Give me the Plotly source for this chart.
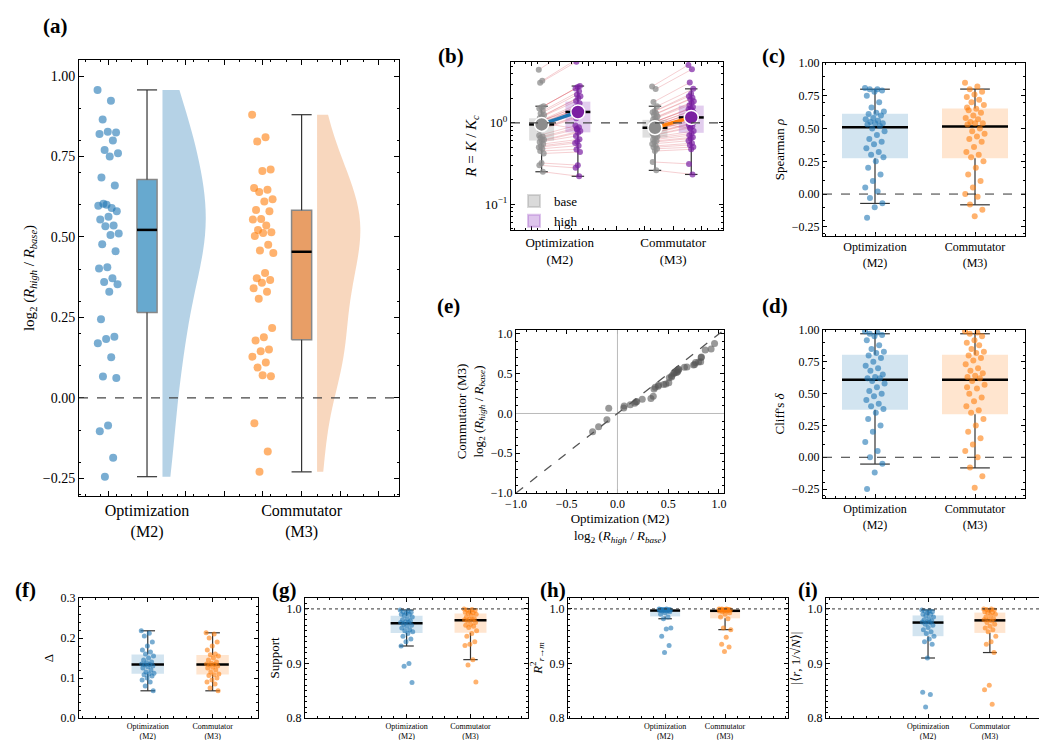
import numpy as np
import plotly.graph_objects as go

W, H = 1047, 740
FONT = "Times New Roman, Liberation Serif, DejaVu Serif, serif"
BLUE = "#1f77b4"
ORANGE = "#ff7f0e"
PURPLE = "#7b1fa2"
GRAY = "#8c8c8c"

groups = ["Optimization<br>(M2)", "Commutator<br>(M3)"]

# (a) log2(R_high/R_base)
a_m2 = [0.957, 0.923, 0.865, 0.825, 0.827, 0.820, 0.800, 0.770, 0.760, 0.750, 0.685, 0.660, 0.600, 0.597,
        0.590, 0.603, 0.580, 0.563, 0.554, 0.536, 0.533, 0.511, 0.506, 0.477, 0.456, 0.406, 0.402, 0.372,
        0.360, 0.353, 0.330, 0.244, 0.190, 0.183, 0.170, 0.126, 0.066, 0.062, -0.086, -0.104, -0.186, -0.245]
a_m3 = [0.880, 0.810, 0.797, 0.710, 0.705, 0.652, 0.647, 0.640, 0.617, 0.610, 0.584, 0.580, 0.556, 0.554,
        0.536, 0.522, 0.515, 0.512, 0.503, 0.476, 0.458, 0.450, 0.388, 0.372, 0.366, 0.358, 0.341, 0.330,
        0.308, 0.217, 0.188, 0.178, 0.150, 0.145, 0.128, 0.110, 0.094, 0.067, 0.070, -0.079, -0.167, -0.230]

# (b) base R = K/Kc
base_m2 = [4.5, 3.3, 3.1, 1.6, 1.55, 1.5, 1.4, 1.3, 1.25, 1.2, 1.15, 1.1, 1.05, 1.02, 1.0, 0.98, 0.97, 0.96,
           0.95, 0.93, 0.9, 0.88, 0.85, 0.82, 1.0, 1.08, 0.7, 0.68, 0.65, 0.62, 0.6, 0.58, 0.55, 0.52, 0.5,
           0.48, 0.45, 0.42, 0.32, 0.3, 0.25, 1.0]
base_m3 = [2.8, 2.6, 1.8, 1.6, 1.4, 1.35, 1.3, 1.25, 1.2, 1.15, 1.1, 1.05, 1.02, 1.0, 0.98, 0.96, 0.94, 0.92,
           0.9, 0.88, 0.86, 0.84, 0.82, 0.8, 0.78, 0.76, 0.74, 0.72, 0.7, 0.68, 0.65, 0.62, 0.6, 0.58, 0.55,
           0.52, 0.5, 0.48, 0.45, 0.33, 0.26, 1.0]

rho_m2 = [0.81, 0.80, 0.80, 0.79, 0.78, 0.75, 0.70, 0.66, 0.63, 0.62, 0.61, 0.60, 0.58, 0.57, 0.56, 0.55, 0.54,
          0.54, 0.53, 0.52, 0.50, 0.48, 0.45, 0.42, 0.40, 0.38, 0.35, 0.32, 0.30, 0.28, 0.25, 0.20, 0.15, 0.10,
          0.05, 0.02, -0.03, -0.07, -0.10, -0.18]
rho_m3 = [0.85, 0.82, 0.80, 0.78, 0.76, 0.74, 0.72, 0.70, 0.68, 0.65, 0.64, 0.62, 0.60, 0.58, 0.57, 0.55, 0.54,
          0.54, 0.53, 0.50, 0.48, 0.46, 0.44, 0.42, 0.40, 0.36, 0.32, 0.30, 0.28, 0.25, 0.20, 0.15, 0.10, 0.05,
          0.0, -0.02, -0.08, -0.12, -0.17, 0.66]
delta_m2 = [0.99, 0.98, 0.97, 0.96, 0.95, 0.92, 0.88, 0.85, 0.83, 0.82, 0.80, 0.78, 0.75, 0.72, 0.70, 0.68, 0.65,
            0.63, 0.62, 0.62, 0.60, 0.58, 0.55, 0.52, 0.50, 0.48, 0.45, 0.42, 0.40, 0.38, 0.35, 0.30, 0.25, 0.20,
            0.12, 0.05, 0.0, -0.05, -0.12, -0.25]
delta_m3 = [0.99, 0.98, 0.97, 0.95, 0.92, 0.90, 0.88, 0.85, 0.83, 0.82, 0.80, 0.78, 0.76, 0.73, 0.70, 0.68, 0.66,
            0.64, 0.63, 0.62, 0.60, 0.57, 0.54, 0.50, 0.47, 0.44, 0.40, 0.37, 0.35, 0.30, 0.25, 0.20, 0.15, 0.10,
            0.05, 0.0, -0.08, -0.15, -0.24, 0.55]
gap_m2 = [0.218, 0.212, 0.205, 0.19, 0.18, 0.17, 0.165, 0.16, 0.155, 0.15, 0.145, 0.14, 0.138, 0.135, 0.134, 0.133,
          0.13, 0.128, 0.125, 0.12, 0.115, 0.112, 0.11, 0.108, 0.105, 0.1, 0.095, 0.09, 0.08, 0.068]
gap_m3 = [0.213, 0.21, 0.2, 0.19, 0.18, 0.17, 0.16, 0.158, 0.155, 0.15, 0.145, 0.14, 0.137, 0.135, 0.134, 0.133,
          0.13, 0.127, 0.125, 0.12, 0.115, 0.11, 0.108, 0.106, 0.1, 0.095, 0.09, 0.085, 0.075, 0.068]
sup_m2 = [0.998, 0.997, 0.995, 0.994, 0.992, 0.99, 0.99, 0.988, 0.985, 0.982, 0.98, 0.978, 0.976, 0.975, 0.975,
          0.972, 0.97, 0.968, 0.965, 0.962, 0.96, 0.958, 0.955, 0.95, 0.945, 0.94, 0.932, 0.90, 0.895, 0.865]
sup_m3 = [1.0, 0.999, 0.998, 0.997, 0.995, 0.994, 0.993, 0.992, 0.99, 0.988, 0.985, 0.982, 0.981, 0.98, 0.98,
          0.978, 0.975, 0.972, 0.97, 0.968, 0.966, 0.96, 0.955, 0.95, 0.94, 0.935, 0.933, 0.907, 0.897, 0.866]
r2_m2 = [1.0, 1.0, 0.999, 0.999, 0.999, 0.999, 0.998, 0.998, 0.998, 0.998, 0.998, 0.997, 0.997, 0.997, 0.996,
         0.996, 0.995, 0.993, 0.99, 0.985, 0.982, 0.965, 0.963, 0.95, 0.933, 0.92]
r2_m3 = [1.0, 1.0, 1.0, 0.999, 0.999, 0.999, 0.999, 0.998, 0.998, 0.998, 0.998, 0.997, 0.997, 0.996, 0.996,
         0.995, 0.993, 0.99, 0.985, 0.982, 0.965, 0.962, 0.948, 0.935, 0.93, 0.922]
ov_m2 = [0.998, 0.997, 0.996, 0.995, 0.993, 0.99, 0.99, 0.988, 0.985, 0.982, 0.98, 0.978, 0.976, 0.976, 0.975,
         0.972, 0.97, 0.966, 0.962, 0.958, 0.955, 0.95, 0.945, 0.94, 0.935, 0.91, 0.847, 0.843, 0.82]
ov_m3 = [1.0, 1.0, 0.999, 0.998, 0.997, 0.995, 0.994, 0.993, 0.99, 0.988, 0.985, 0.982, 0.98, 0.98, 0.978,
         0.975, 0.972, 0.968, 0.965, 0.962, 0.958, 0.95, 0.94, 0.935, 0.92, 0.86, 0.852, 0.825]

fig = go.Figure()
n_ax = [0]


def new_axes(px0, px1, py0, py1, xr, yr, xtitle=None, ytitle=None, ylog=False, tick_size=11,
             xticks=None, yticks=None, ytext=None, fs=11):
    n_ax[0] += 1
    k = n_ax[0]
    sfx = "" if k == 1 else str(k)
    common = dict(showline=True, linecolor="black", linewidth=1, mirror="allticks", ticks="inside",
                  ticklen=4, tickcolor="black", showgrid=False, zeroline=False, automargin=False,
                  tickfont=dict(family=FONT, size=tick_size, color="black"),
                  minor=dict(ticks="inside", ticklen=2, tickcolor="black"))
    xa = dict(common, domain=[px0 / W, px1 / W], anchor="y" + sfx, range=xr)
    if xticks is not None:
        xa.update(tickvals=xticks[0], ticktext=xticks[1])
    if xtitle:
        xa["title"] = dict(text=xtitle, font=dict(family=FONT, size=fs, color="black"), standoff=2)
    ya = dict(common, domain=[1 - py1 / H, 1 - py0 / H], anchor="x" + sfx, range=yr)
    if ylog:
        ya["type"] = "log"
    if yticks is not None:
        ya["tickvals"] = yticks
        if ytext is not None:
            ya["ticktext"] = ytext
    if ytitle:
        ya["title"] = dict(text=ytitle, font=dict(family=FONT, size=fs, color="black"), standoff=4)
    fig.layout["xaxis" + sfx] = xa
    fig.layout["yaxis" + sfx] = ya
    return "x" + sfx, "y" + sfx


def jitter(n, w):
    return ((np.arange(n) * 0.618034) % 1 - 0.5) * w


def draw_box(xa, ya, pos, vals, hw, fill, edge, whis="iqr", cap=0.5, mw=2.5, ew=1.2):
    v = np.array(vals, dtype=float)
    q1, med, q3 = np.percentile(v, [25, 50, 75])
    if whis == "range":
        lo, hi = v.min(), v.max()
    elif whis == "pct":
        lo, hi = np.percentile(v, [5, 95])
    else:
        iqr = q3 - q1
        lo, hi = v[v >= q1 - 1.5 * iqr].min(), v[v <= q3 + 1.5 * iqr].max()
    cw = hw * cap
    fig.add_trace(go.Scatter(x=[pos - hw, pos + hw, pos + hw, pos - hw, pos - hw], y=[q1, q1, q3, q3, q1],
                             mode="lines", fill="toself", fillcolor=fill,
                             line=dict(color=edge if edge else "rgba(0,0,0,0)", width=1.5),
                             xaxis=xa, yaxis=ya, showlegend=False, hoverinfo="skip"))
    fig.add_trace(go.Scatter(x=[pos, pos, None, pos, pos, None, pos - cw, pos + cw, None, pos - cw, pos + cw],
                             y=[q3, hi, None, q1, lo, None, hi, hi, None, lo, lo], mode="lines",
                             line=dict(color="#333333", width=ew), xaxis=xa, yaxis=ya,
                             showlegend=False, hoverinfo="skip"))
    fig.add_trace(go.Scatter(x=[pos - hw, pos + hw], y=[med, med], mode="lines",
                             line=dict(color="black", width=mw), xaxis=xa, yaxis=ya,
                             showlegend=False, hoverinfo="skip"))


def draw_points(xa, ya, pos, vals, color, jw, size=6, op=0.6):
    fig.add_trace(go.Scatter(x=pos + jitter(len(vals), jw), y=vals, mode="markers",
                             marker=dict(color=color, size=size, opacity=op, line=dict(width=0)),
                             xaxis=xa, yaxis=ya, showlegend=False, hoverinfo="skip"))


def hline(xa, ya, y, dash="dash", color="#444444", width=1.2):
    fig.add_shape(type="line", xref=xa + " domain", yref=ya, x0=0, x1=1, y0=y, y1=y,
                  line=dict(color=color, dash=dash, width=width))


def label(txt, px, py):
    fig.add_annotation(text="<b>" + txt + "</b>", x=px / W, y=1 - py / H, xref="paper", yref="paper",
                       showarrow=False, xanchor="left", yanchor="middle",
                       font=dict(family=FONT, size=21, color="black"))


log_lbl = "log<sub>2</sub> (<i>R<sub>high</sub></i> / <i>R<sub>base</sub></i>)"

# ---- (a)
ta = [-0.25 + 0.25 * i for i in range(-1, 8)]
tat = ["", "", groups[0], "", "", "", groups[1], "", ""]
xa, ya = new_axes(71, 391, 52, 488, [-0.44, 1.63], [-0.305, 1.05], ytitle=log_lbl, tick_size=14,
                  xticks=(ta, tat), yticks=[-0.25, 0, 0.25, 0.5, 0.75, 1.0],
                  ytext=["−0.25", "0.00", "0.25", "0.50", "0.75", "1.00"], fs=15)
fig.layout["xaxis"].tickfont.size = 16
fig.layout["xaxis"].ticklen = 5
fig.layout["yaxis"].ticklen = 5
hline(xa, ya, 0)
for pos, vals, col, bfill, vfill in [(0, a_m2, BLUE, "#67a9cf", "rgba(31,119,180,0.33)"),
                                     (1, a_m3, ORANGE, "#e89e66", "rgba(235,140,70,0.35)")]:
    fig.add_trace(go.Violin(x0=pos + 0.1, y=vals, side="positive", width=0.56, spanmode="hard",
                            fillcolor=vfill, line=dict(width=0), points=False, xaxis=xa, yaxis=ya,
                            showlegend=False, hoverinfo="skip", scalemode="width"))
    draw_points(xa, ya, pos - 0.25, vals, col, 0.14, size=8)
    draw_box(xa, ya, pos, vals, 0.065, bfill, "#888888", whis="range", cap=1.0, mw=2.5)

# ---- (b)
xb, yb = new_axes(503, 715, 54, 222, [-0.43, 1.44], [np.log10(0.048), np.log10(5.6)], ylog=True,
                  ytitle="<i>R</i> = <i>K</i> / <i>K<sub>c</sub></i>", tick_size=13,
                  xticks=([-0.25, 0, 0.25, 0.5, 0.75, 1, 1.25], ["", groups[0], "", "", "", groups[1], ""]),
                  yticks=[0.1, 1], ytext=["10<sup>−1</sup>", "10<sup>0</sup>"], fs=15)
fig.layout["yaxis2"].minor.tickvals = [0.05, 0.06, 0.07, 0.08, 0.09, 0.2, 0.3, 0.4, 0.5, 0.6, 0.7, 0.8, 0.9,
                                       2, 3, 4, 5]
hline(xb, yb, 1)
for pos, base, ratio, col in [(0, base_m2, a_m2, BLUE), (1, base_m3, a_m3, ORANGE)]:
    b = np.array(base)
    h = b * 2 ** np.array(ratio)
    j = jitter(len(b), 0.05)
    xs, ys = [], []
    for i in range(len(b)):
        xs += [pos - 0.16 + j[i], pos + 0.16 + j[i], None]
        ys += [b[i], h[i], None]
    fig.add_trace(go.Scatter(x=xs, y=ys, mode="lines", line=dict(color="rgba(220,80,90,0.35)", width=0.8),
                             xaxis=xb, yaxis=yb, showlegend=False, hoverinfo="skip"))
    draw_box(xb, yb, pos - 0.16, b, 0.11, "rgba(150,150,150,0.3)", None, cap=0.5, mw=2.5)
    draw_box(xb, yb, pos + 0.16, h, 0.11, "rgba(160,90,200,0.3)", None, cap=0.5, mw=2.5)
    fig.add_trace(go.Scatter(x=pos - 0.16 + j, y=b, mode="markers",
                             marker=dict(color=GRAY, size=6, opacity=0.75), xaxis=xb, yaxis=yb,
                             showlegend=False, hoverinfo="skip"))
    fig.add_trace(go.Scatter(x=pos + 0.16 + j, y=h, mode="markers",
                             marker=dict(color=PURPLE, size=6, opacity=0.7), xaxis=xb, yaxis=yb,
                             showlegend=False, hoverinfo="skip"))
    fig.add_trace(go.Scatter(x=[pos - 0.16, pos + 0.16], y=[np.median(b), np.median(h)], mode="lines",
                             line=dict(color=col, width=3.5), xaxis=xb, yaxis=yb, showlegend=False,
                             hoverinfo="skip"))
    fig.add_trace(go.Scatter(x=[pos - 0.16, pos + 0.16], y=[np.median(b), np.median(h)], mode="markers",
                             marker=dict(color=[GRAY, PURPLE], size=14, line=dict(color="white", width=1.5)),
                             xaxis=xb, yaxis=yb, showlegend=False, hoverinfo="skip"))
for name, col in [("base", "rgba(150,150,150,0.35)"), ("high", "rgba(160,90,200,0.35)")]:
    fig.add_trace(go.Scatter(x=[None], y=[None], mode="markers", name=name,
                             marker=dict(symbol="square", size=15, color=col, line=dict(color=col, width=1)),
                             xaxis=xb, yaxis=yb))
fig.update_layout(legend=dict(x=506 / W, y=1 - 178 / H, xanchor="left", yanchor="top",
                              bgcolor="rgba(255,255,255,0)", font=dict(family=FONT, size=13, color="black"),
                              itemsizing="constant", tracegroupgap=0))


def stat_panel(px0, px1, py0, py1, xr, yr, yticks, ytext, ytitle, v2, v3, hw, jw, ref, refdash,
               whis, tick_size=12, size=6, gap=1.0, xsize=12, fs=13):
    xs, ys = new_axes(px0, px1, py0, py1, xr, yr, ytitle=ytitle, tick_size=tick_size,
                      xticks=([0, gap], groups), yticks=yticks, ytext=ytext, fs=fs)
    fig.layout["xaxis" + xs[1:]].tickfont.size = xsize
    if ref is not None:
        hline(xs, ys, ref, dash=refdash, color="#333333", width=1)
    for pos, vals, col, fill in [(0, v2, BLUE, "rgba(31,119,180,0.2)"),
                                 (gap, v3, ORANGE, "rgba(255,127,14,0.2)")]:
        draw_box(xs, ys, pos, vals, hw, fill, None, whis=whis, cap=0.45, mw=2.5)
        draw_points(xs, ys, pos, vals, col, jw, size=size)


# ---- (c)
stat_panel(815, 1017, 55, 228, [-0.52, 1.5], [-0.32, 1.0], [-0.25, 0, 0.25, 0.5, 0.75, 1.0],
           ["−0.25", "0.00", "0.25", "0.50", "0.75", "1.00"], "Spearman <i>ρ</i>", rho_m2, rho_m3,
           0.33, 0.2, 0, "dash", "pct")
# ---- (d)
stat_panel(815, 1017, 322, 490, [-0.52, 1.5], [-0.32, 1.0], [-0.25, 0, 0.25, 0.5, 0.75, 1.0],
           ["−0.25", "0.00", "0.25", "0.50", "0.75", "1.00"], "Cliff's <i>δ</i>", delta_m2, delta_m3,
           0.33, 0.2, 0, "dash", "pct")

# ---- (e)
xe, ye = new_axes(508, 716, 322, 485, [-1, 1.05], [-1, 1.05],
                  xtitle="Optimization (M2)<br>" + log_lbl,
                  ytitle="Commutator (M3)<br>" + log_lbl, tick_size=12,
                  xticks=([-1, -0.5, 0, 0.5, 1], ["−1.0", "−0.5", "0.0", "0.5", "1.0"]),
                  yticks=[-1, -0.5, 0, 0.5, 1], ytext=["−1.0", "−0.5", "0.0", "0.5", "1.0"], fs=13)
fig.add_shape(type="line", xref=xe, yref=ye + " domain", x0=0, x1=0, y0=0, y1=1,
              line=dict(color="#bbbbbb", width=1))
fig.add_shape(type="line", xref=xe + " domain", yref=ye, x0=0, x1=1, y0=0, y1=0,
              line=dict(color="#bbbbbb", width=1))
fig.add_shape(type="line", xref=xe, yref=ye, x0=-1, x1=1.05, y0=-1, y1=1.05,
              line=dict(color="#555555", width=1.3, dash="dash"))
fig.add_trace(go.Scatter(x=sorted(a_m2), y=sorted(a_m3), mode="markers",
                         marker=dict(color="#555555", size=7, opacity=0.6), xaxis=xe, yaxis=ye,
                         showlegend=False, hoverinfo="skip"))

# ---- (f)-(i)
stat_panel(71, 250, 590, 710, [-1.06, 1.7], [0, 0.3], [0, 0.1, 0.2, 0.3], ["0.0", "0.1", "0.2", "0.3"],
           "Δ", gap_m2, gap_m3, 0.25, 0.2, None, None, "iqr", size=5, xsize=8)
stat_panel(297, 520, 590, 710, [-1.59, 1.9], [0.8, 1.02], [0.8, 0.9, 1.0], ["0.8", "0.9", "1.0"],
           "Support", sup_m2, sup_m3, 0.25, 0.2, 1.0, "dot", "iqr", size=5, xsize=8)
stat_panel(560, 780, 590, 710, [-1.62, 2.05], [0.8, 1.02], [0.8, 0.9, 1.0], ["0.8", "0.9", "1.0"],
           "<i>R</i><sup>2</sup><sub><i>r</i>→<i>m</i></sub>", r2_m2, r2_m3, 0.25, 0.2, 1.0, "dot", "iqr",
           size=5, xsize=8)
stat_panel(818, 1040, 590, 710, [-1.65, 1.94], [0.8, 1.02], [0.8, 0.9, 1.0], ["0.8", "0.9", "1.0"],
           "|⟨<i>r</i>, 1/√<i>N</i>⟩|", ov_m2, ov_m3, 0.25, 0.2, 1.0, "dot", "iqr", size=5, xsize=8)

for t, px, py in [("(a)", 33, 18), ("(b)", 428, 48), ("(c)", 752, 48), ("(e)", 427, 298), ("(d)", 752, 298),
                  ("(f)", 5, 582), ("(g)", 262, 582), ("(h)", 530, 582), ("(i)", 788, 582)]:
    label(t, px, py)

fig.update_layout(width=W, height=H, margin=dict(l=0, r=0, t=0, b=0), plot_bgcolor="white",
                  paper_bgcolor="white", font=dict(family=FONT, color="black"), showlegend=True)
fig.write_html("out.html")
